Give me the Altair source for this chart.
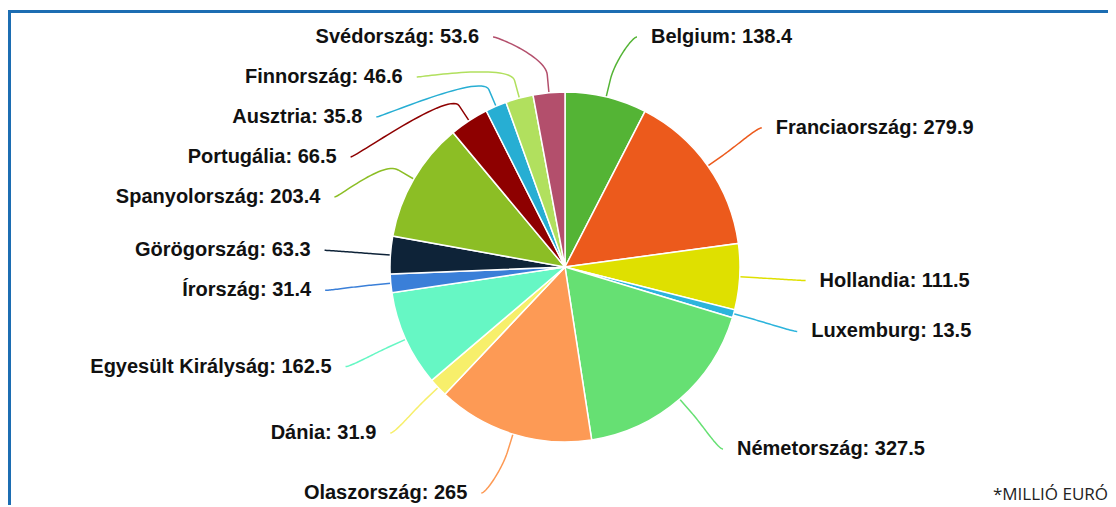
import math
import altair as alt
import pandas as pd

# ---------------- data ----------------
countries = ["Belgium", "Franciaország", "Hollandia", "Luxemburg", "Németország",
             "Olaszország", "Dánia", "Egyesült Királyság", "Írország", "Görögország",
             "Spanyolország", "Portugália", "Ausztria", "Finnország", "Svédország"]
values = [138.4, 279.9, 111.5, 13.5, 327.5, 265, 31.9, 162.5, 31.4, 63.3,
          203.4, 66.5, 35.8, 46.6, 53.6]
value_labels = ["138.4", "279.9", "111.5", "13.5", "327.5", "265", "31.9", "162.5",
                "31.4", "63.3", "203.4", "66.5", "35.8", "46.6", "53.6"]
colors = ["#54b435", "#ec5a1c", "#dfe000", "#2cb4dc", "#66e073", "#fd9a55", "#f7ef6b",
          "#66f7c4", "#3a7fd8", "#0e2338", "#8cbe25", "#8e0000", "#27aed3", "#b1e05e",
          "#b34f6c"]
note = "*MILLIÓ EURÓ"

# ---------------- layout (view pixels) ----------------
W, H = 1100, 497
CX, CY = 557, 259
R_PIE = 175
R_LABEL = 241
BREAK = 18
GAP = 14
SLOT = 40
TOP, BOTTOM = 29, 485

total = sum(values)
rows = []
cum = 0.0
for i, (c, v, vl) in enumerate(zip(countries, values, value_labels)):
    a = (cum + v / 2) / total * 2 * math.pi
    cum += v
    rows.append(dict(idx=i, country=c, value=v, label=f"{c}: {vl}", a=a,
                     side="right" if a < math.pi else "left",
                     ny=CY - R_LABEL * math.cos(a)))
df = pd.DataFrame(rows)


def distribute(sub):
    sub = sub.sort_values("ny").copy()
    ys = []
    prev = None
    for ny in sub["ny"]:
        y = max(ny, TOP)
        if prev is not None:
            y = max(y, prev + SLOT)
        ys.append(y)
        prev = y
    ys[-1] = min(ys[-1], BOTTOM)
    for k in range(len(ys) - 2, -1, -1):
        ys[k] = min(ys[k], ys[k + 1] - SLOT)
    sub["ly"] = ys
    return sub


df = pd.concat([distribute(df[df.side == "right"]), distribute(df[df.side == "left"])])
df = df.sort_values("idx").reset_index(drop=True)

sgn = df["side"].map({"right": 1, "left": -1})
dy = df["ly"] - CY
df["lx"] = CX + sgn * (R_LABEL ** 2 - dy.clip(-R_LABEL, R_LABEL) ** 2) ** 0.5
df["tx"] = df["lx"] + sgn * GAP

# connector lines (Highcharts-like fixed offset curve)
line_rows = []
for _, r in df.iterrows():
    s = 1 if r.side == "right" else -1
    tx_ = CX + R_PIE * math.sin(r.a)
    ty_ = CY - R_PIE * math.cos(r.a)
    bx = CX + (R_PIE + BREAK) * math.sin(r.a)
    by = CY - (R_PIE + BREAK) * math.cos(r.a)
    p0 = (r.lx, r.ly)
    p1 = (r.lx - s * 5, r.ly)
    p2 = (2 * bx - tx_, 2 * by - ty_)
    p3 = (bx, by)
    n = 30
    for k in range(n + 1):
        t = k / n
        x = ((1 - t) ** 3 * p0[0] + 3 * (1 - t) ** 2 * t * p1[0]
             + 3 * (1 - t) * t ** 2 * p2[0] + t ** 3 * p3[0])
        y = ((1 - t) ** 3 * p0[1] + 3 * (1 - t) ** 2 * t * p1[1]
             + 3 * (1 - t) * t ** 2 * p2[1] + t ** 3 * p3[1])
        line_rows.append(dict(country=r.country, seq=k, x=x, y=y))
    line_rows.append(dict(country=r.country, seq=n + 1, x=tx_, y=ty_))
lines = pd.DataFrame(line_rows)

color_scale = alt.Scale(domain=countries, range=colors)
xs = alt.Scale(domain=[0, W], range=[0, W], zero=False, nice=False)
ys = alt.Scale(domain=[0, H], range=[0, H], zero=False, nice=False)

frame = alt.Chart(pd.DataFrame({"f": [0]})).mark_rect(
    filled=False, stroke="#1c6db2", strokeWidth=3, clip=False
).encode(x=alt.value(1.5), x2=alt.value(W + 40), y=alt.value(3.5), y2=alt.value(H + 40))

pie = alt.Chart(df).mark_arc(
    outerRadius=R_PIE, stroke="white", strokeWidth=1.5
).encode(
    theta=alt.Theta("value:Q", stack=True),
    order=alt.Order("idx:Q"),
    color=alt.Color("country:N", scale=color_scale, legend=None),
    x=alt.value(CX), y=alt.value(CY),
)

conn = alt.Chart(lines).mark_line(strokeWidth=1.5).encode(
    x=alt.X("x:Q", scale=xs, axis=None),
    y=alt.Y("y:Q", scale=ys, axis=None),
    color=alt.Color("country:N", scale=color_scale, legend=None),
    detail="country:N",
    order="seq:Q",
)

def label_layer(side, align):
    return alt.Chart(df).transform_filter(alt.datum.side == side).mark_text(
        align=align, baseline="middle", font="Liberation Sans", fontWeight="bold",
        fontSize=20, color="#111111"
    ).encode(
        x=alt.X("tx:Q", scale=xs, axis=None),
        y=alt.Y("ly:Q", scale=ys, axis=None),
        text="label:N",
    )

foot = alt.Chart(pd.DataFrame({"t": [note]})).mark_text(
    align="right", baseline="alphabetic", font="Open Sans", fontSize=17, color="#222222"
).encode(x=alt.value(W), y=alt.value(492), text="t:N")

chart = alt.layer(frame, conn, pie, label_layer("right", "left"),
                  label_layer("left", "right"), foot).properties(
    width=W, height=H, padding=0, autosize="none", background="white"
).configure_view(stroke=None)

chart.save("out.html", embed_options={"renderer": "svg", "actions": False})
